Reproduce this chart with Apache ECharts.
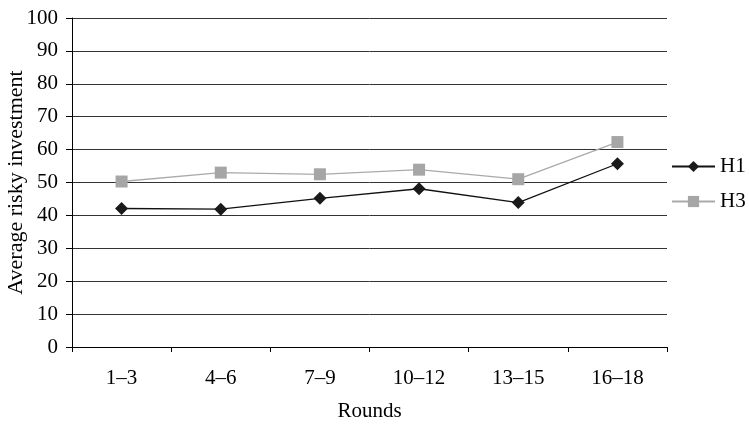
<!DOCTYPE html>
<html><head><meta charset="utf-8">
<script src="https://cdn.jsdelivr.net/npm/echarts@6/dist/echarts.min.js"></script>
<style>html,body{margin:0;padding:0;background:#fff}#c{width:749px;height:425px}</style>
</head><body><div id="c"></div>
<script>
const categories = ['1–3','4–6','7–9','10–12','13–15','16–18'];
const h1 = [42.1, 41.9, 45.2, 48.1, 43.9, 55.7];
const h3 = [50.3, 53.0, 52.5, 53.9, 51.0, 62.3];
const yTicks = {min: 0, max: 100, interval: 10};

const font = 'Liberation Serif';
const chart = echarts.init(document.getElementById('c'));
chart.setOption({
  animation: false,
  backgroundColor: '#fff',
  grid: {left: 72, right: 82, top: 18, bottom: 78, containLabel: false, outerBoundsMode: 'none'},
  legend: {
    orient: 'vertical', left: 671, top: 156, itemGap: 14, padding: 0,
    itemWidth: 43, itemHeight: 14,
    textStyle: {fontFamily: font, fontSize: 21, color: '#000'},
    data: ['H1','H3']
  },
  xAxis: {
    type: 'category', data: categories, boundaryGap: true,
    name: 'Rounds', nameLocation: 'middle', nameGap: 54,
    nameTextStyle: {fontFamily: font, fontSize: 21, color: '#000'},
    axisLine: {lineStyle: {color: '#000', width: 1}},
    axisTick: {show: true, length: 5, inside: false, lineStyle: {color: '#000'}},
    axisLabel: {fontFamily: font, fontSize: 21, color: '#000', margin: 21},
    splitLine: {show: false}
  },
  yAxis: {
    type: 'value', min: yTicks.min, max: yTicks.max, interval: yTicks.interval,
    name: 'Average risky investment', nameLocation: 'middle', nameGap: 45,
    nameMoveOverlap: false,
    nameTextStyle: {fontFamily: font, fontSize: 22, color: '#000'},
    axisLine: {show: true, lineStyle: {color: '#000', width: 1}},
    axisTick: {show: true, length: 6, lineStyle: {color: '#000'}},
    axisLabel: {fontFamily: font, fontSize: 21, color: '#000', margin: 14},
    splitLine: {show: true, lineStyle: {color: '#333', width: 1}}
  },
  series: [
    {name: 'H1', type: 'line', data: h1, symbol: 'diamond', symbolSize: 13,
     lineStyle: {color: '#111', width: 1.3}, itemStyle: {color: '#1a1a1a'}},
    {name: 'H3', type: 'line', data: h3, symbol: 'rect', symbolSize: 12,
     lineStyle: {color: '#aaa', width: 1.3}, itemStyle: {color: '#a6a6a6'}}
  ]
});
</script></body></html>
